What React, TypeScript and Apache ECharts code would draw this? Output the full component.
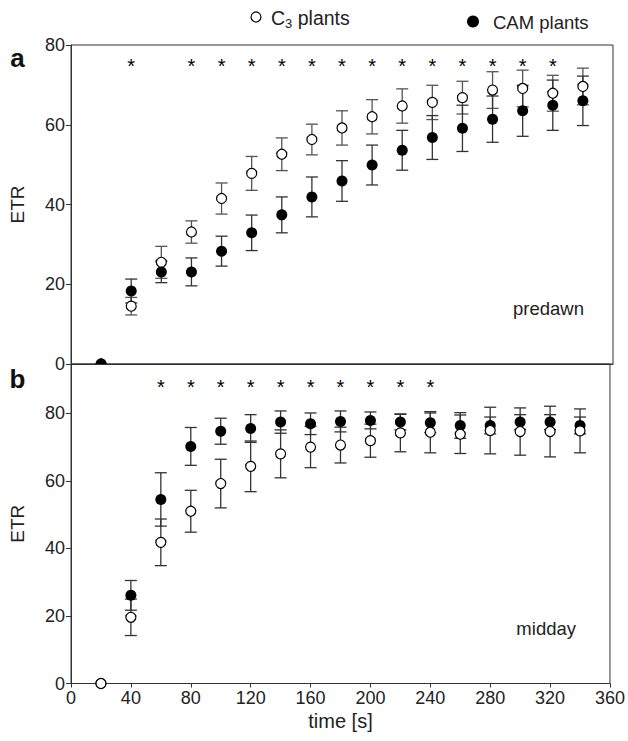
import React, { useEffect, useRef } from "react";
import * as echarts from "echarts";

// ---- data ----
const times = [20, 40, 60, 80, 100, 120, 140, 160, 180, 200, 220, 240, 260, 280, 300, 320, 340];

// panel a: predawn
const predawnC3 = [0, 14.5, 25.5, 33.1, 41.5, 47.8, 52.6, 56.3, 59.2, 62.0, 64.7, 65.6, 66.8, 68.7, 69.1, 67.9, 69.6];
const predawnC3Err = [0, 2.2, 4.0, 2.8, 3.9, 4.25, 4.1, 3.85, 4.3, 4.3, 4.3, 4.3, 4.1, 4.6, 4.6, 4.5, 4.6];
const predawnCAM = [0, 18.3, 23.1, 23.1, 28.3, 32.9, 37.4, 41.9, 45.9, 49.9, 53.6, 56.8, 59.1, 61.4, 63.5, 64.9, 66.0];
const predawnCAMErr = [0, 3.0, 2.7, 3.5, 3.75, 4.45, 4.5, 5.0, 5.1, 5.0, 5.0, 5.5, 5.8, 5.8, 6.4, 6.3, 6.2];

// panel b: midday
const middayC3 = [0, 19.6, 41.8, 51.0, 59.2, 64.3, 68.0, 70.0, 70.6, 71.9, 74.2, 74.4, 73.8, 74.9, 74.6, 74.6, 74.8];
const middayC3Err = [0, 5.4, 6.9, 6.2, 7.2, 7.5, 7.1, 6.1, 5.3, 4.9, 5.6, 6.1, 5.7, 6.9, 7.0, 7.5, 6.5];
const middayCAM = [0, 26.1, 54.5, 70.2, 74.7, 75.5, 77.4, 76.9, 77.6, 77.9, 77.4, 77.2, 76.4, 76.4, 77.4, 77.4, 76.4];
const middayCAMErr = [0, 4.4, 7.9, 5.6, 3.85, 4.1, 3.3, 3.2, 3.1, 2.5, 2.3, 2.9, 3.8, 2.5, 2.2, 2.2, 2.5];

// significance marks (times with *)
const starsPredawn = [40, 80, 100, 120, 140, 160, 180, 200, 220, 240, 260, 280, 300, 320];
const starsMidday = [60, 80, 100, 120, 140, 160, 180, 200, 220, 240];

const xTicks = [0, 40, 80, 120, 160, 200, 240, 280, 320, 360];
const yTicks = [0, 20, 40, 60, 80];

// ---- layout constants ----
const STAR_Y_TOP = 74.8;
const STAR_Y_BOTTOM = 87.8;
const FONT = "'Liberation Sans', Arial, Helvetica, sans-serif";
const INK = "#222";

function errData(means: number[], errs: number[]) {
  return times
    .map((t, i) => [t, means[i] - errs[i], means[i] + errs[i]])
    .filter((_, i) => errs[i] > 0);
}

function errSeries(means: number[], errs: number[], idx: number, color: string) {
  return {
    type: "custom",
    xAxisIndex: idx,
    yAxisIndex: idx,
    silent: true,
    data: errData(means, errs),
    renderItem: (params: any, api: any) => {
      const x = api.value(0);
      const lo = api.coord([x, api.value(1)]);
      const hi = api.coord([x, api.value(2)]);
      const hw = 6;
      const style = { stroke: color, lineWidth: 1.3 };
      return {
        type: "group",
        children: [
          { type: "line", shape: { x1: lo[0], y1: lo[1], x2: hi[0], y2: hi[1] }, style },
          { type: "line", shape: { x1: lo[0] - hw, y1: lo[1], x2: lo[0] + hw, y2: lo[1] }, style },
          { type: "line", shape: { x1: hi[0] - hw, y1: hi[1], x2: hi[0] + hw, y2: hi[1] }, style },
        ],
      };
    },
  };
}

// markers drawn as a custom series so the panel can clip them at its frame
function pointSeries(name: string, means: number[], idx: number, open: boolean, clip: boolean) {
  return {
    type: "custom",
    name,
    xAxisIndex: idx,
    yAxisIndex: idx,
    silent: true,
    clip,
    data: times.map((t, i) => [t, means[i]]),
    renderItem: (params: any, api: any) => {
      const p = api.coord([api.value(0), api.value(1)]);
      return {
        type: "circle",
        shape: { cx: p[0], cy: p[1], r: open ? 5 : 5.5 },
        style: open
          ? { fill: "#fff", stroke: "#000", lineWidth: 1.2 }
          : { fill: "#000", stroke: null },
      };
    },
  };
}

function starSeries(ts: number[], y: number, idx: number) {
  return {
    type: "scatter",
    xAxisIndex: idx,
    yAxisIndex: idx,
    symbolSize: 0,
    silent: true,
    data: ts.map((t) => [t, y]),
    itemStyle: { opacity: 1 },
    label: {
      show: true,
      position: "inside",
      formatter: "*",
      fontSize: 20,
      fontFamily: FONT,
      color: "#000",
    },
  };
}

export default function App() {
  const ref = useRef<HTMLDivElement>(null);
  useEffect(() => {
    if (!ref.current) return;
    const chart = echarts.init(ref.current, null, { renderer: "svg" });
    const axisLabel = { fontSize: 18, fontFamily: FONT, color: INK };
    const axisLine = { show: true, lineStyle: { color: "#333", width: 1 } };
    const yFormatter = (v: number) => (yTicks.includes(v) ? String(v) : "");
    const nameStyle = { fontSize: 19, fontFamily: FONT, color: INK };
    chart.setOption({
      animation: false,
      backgroundColor: "#fff",
      grid: [
        { left: 71, top: 45, width: 542, height: 319, show: true, borderColor: "#333", borderWidth: 1 },
        { left: 71, top: 364, width: 542, height: 319.5, show: true, borderColor: "#333", borderWidth: 1 },
      ],
      xAxis: [
        {
          type: "value", gridIndex: 0, min: 0, max: 360, interval: 40,
          axisLine, axisTick: { show: false }, axisLabel: { show: false }, splitLine: { show: false },
        },
        {
          type: "value", gridIndex: 1, min: 0, max: 360, interval: 40,
          axisLine,
          axisTick: { show: true, inside: false, length: 4, lineStyle: { color: "#333" } },
          axisLabel: { ...axisLabel, margin: 5, formatter: (v: number) => (xTicks.includes(v) ? String(v) : "") },
          splitLine: { show: false },
          name: "time [s]",
          nameLocation: "middle",
          nameGap: 27,
          nameTextStyle: { ...nameStyle, fontSize: 20 },
        },
      ],
      yAxis: [
        {
          type: "value", gridIndex: 0, min: 0, max: 80, interval: 20,
          axisLine,
          axisTick: { show: true, inside: false, length: 5, lineStyle: { color: "#333" } },
          axisLabel: { ...axisLabel, margin: 6, formatter: yFormatter },
          splitLine: { show: false },
          name: "ETR", nameLocation: "middle", nameGap: 44, nameRotate: 90,
          nameTextStyle: nameStyle,
        },
        {
          type: "value", gridIndex: 1, min: 0, max: 94.6, interval: 20,
          axisLine,
          axisTick: { show: true, inside: false, length: 5, lineStyle: { color: "#333" } },
          axisLabel: { ...axisLabel, margin: 6, formatter: yFormatter, showMaxLabel: false },
          splitLine: { show: false },
          name: "ETR", nameLocation: "middle", nameGap: 44, nameRotate: 90,
          nameTextStyle: nameStyle,
        },
      ],
      series: [
        errSeries(predawnC3, predawnC3Err, 0, "#555"),
        errSeries(predawnCAM, predawnCAMErr, 0, "#333"),
        pointSeries("C3 plants", predawnC3, 0, true, true),
        pointSeries("CAM plants", predawnCAM, 0, false, true),
        starSeries(starsPredawn, STAR_Y_TOP, 0),
        errSeries(middayCAM, middayCAMErr, 1, "#333"),
        errSeries(middayC3, middayC3Err, 1, "#333"),
        pointSeries("CAM plants", middayCAM, 1, false, false),
        pointSeries("C3 plants", middayC3, 1, true, false),
        starSeries(starsMidday, STAR_Y_BOTTOM, 1),
      ],
      graphic: [
        { type: "circle", shape: { cx: 256, cy: 17, r: 5 }, style: { fill: "#fff", stroke: "#000", lineWidth: 1.2 } },
        {
          type: "text", x: 271, y: 18,
          style: {
            text: "{n|C}{s|3}{n| plants}",
            verticalAlign: "middle",
            rich: {
              n: { fontSize: 19.5, fontFamily: FONT, fill: INK, color: INK },
              s: { fontSize: 13, fontFamily: FONT, fill: INK, color: INK, padding: [11, 0, 0, 0] },
            },
          },
        },
        { type: "circle", shape: { cx: 473, cy: 21.5, r: 6 }, style: { fill: "#000" } },
        {
          type: "text", x: 493, y: 22,
          style: { text: "CAM plants", fontSize: 18.5, fontFamily: FONT, fill: INK, verticalAlign: "middle" },
        },
        {
          type: "text", x: 17.5, y: 58,
          style: { text: "a", fontSize: 26, fontWeight: "bold", fontFamily: FONT, fill: "#111", align: "center", verticalAlign: "middle" },
        },
        {
          type: "text", x: 17.5, y: 379,
          style: { text: "b", fontSize: 26, fontWeight: "bold", fontFamily: FONT, fill: "#111", align: "center", verticalAlign: "middle" },
        },
        {
          type: "text", x: 584, y: 308,
          style: { text: "predawn", fontSize: 18.5, fontFamily: FONT, fill: INK, align: "right", verticalAlign: "middle" },
        },
        {
          type: "text", x: 576, y: 628,
          style: { text: "midday", fontSize: 18.5, fontFamily: FONT, fill: INK, align: "right", verticalAlign: "middle" },
        },
      ],
    });
    return () => chart.dispose();
  }, []);
  return (
    <div
      ref={ref}
      style={{ position: "fixed", left: 0, top: 0, width: 628, height: 741, background: "#fff" }}
    />
  );
}
